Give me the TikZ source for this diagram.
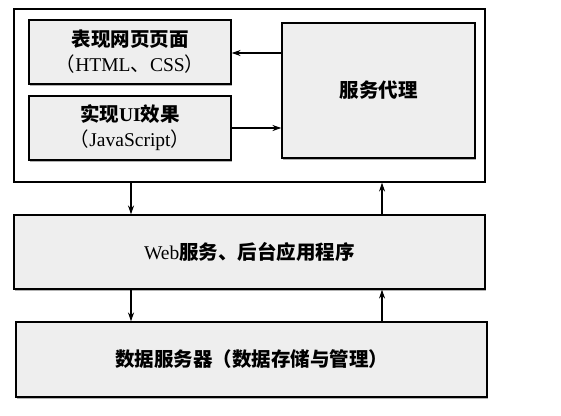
\documentclass[tikz,border=0pt]{standalone}
\usepackage{fontspec}
\setmainfont{Liberation Serif}
\newfontfamily\cjk{Noto Sans CJK SC}
\usetikzlibrary{shadows,arrows.meta}
\begin{document}
\begin{tikzpicture}[x=1pt,y=-1pt,
  every node/.style={font=\fontsize{19.5}{25}\selectfont},
  outerbox/.style={draw, line width=1.1pt, fill=white, inner sep=0pt},
  graybox/.style={draw, line width=1.1pt, fill=gray!13, inner sep=0pt, align=center,
    drop shadow={shadow xshift=1.4pt, shadow yshift=-1.6pt, fill=gray!60, opacity=1}},
  arr/.style={line width=1.1pt, -{Stealth[length=9pt,width=6pt]}}]
\useasboundingbox (0,0) rectangle (561,415);
\node (outer) [outerbox, minimum width=471pt, minimum height=173pt] at (249.5,95.5) {};
\node (b1) [graybox, minimum width=202pt, minimum height=64pt] at (130,52)
  {{\cjk\bfseries 表现网页页面}\\{\cjk （}HTML{\cjk 、}CSS{\cjk ）}};
\node (b2) [graybox, minimum width=202pt, minimum height=64pt] at (130,128)
  {{\cjk\bfseries 实现}{\bfseries UI}{\cjk\bfseries 效果}\\{\cjk （}JavaScript{\cjk ）}};
\node (b3) [graybox, minimum width=193pt, minimum height=135pt] at (378.5,90.5)
  {\cjk\bfseries 服务代理};
\node (web) [graybox, minimum width=471pt, minimum height=74pt] at (249.5,252)
  {Web{\cjk\bfseries 服务、后台应用程序}};
\node (data) [graybox, minimum width=471pt, minimum height=75pt] at (251.5,359.5)
  {\cjk\bfseries 数据服务器（数据存储与管理）};
\coordinate (c1) at (131,0);
\coordinate (c2) at (382,0);
\coordinate (r1) at (0,53);
\coordinate (r2) at (0,128);
\draw[arr] (b3.west |- r1) -- (b1.east |- r1);
\draw[arr] (b2.east |- r2) -- (b3.west |- r2);
\draw[arr] (outer.south -| c1) -- (web.north -| c1);
\draw[arr] (web.north -| c2) -- (outer.south -| c2);
\draw[arr] (web.south -| c1) -- (data.north -| c1);
\draw[arr] (data.north -| c2) -- (web.south -| c2);
\end{tikzpicture}
\end{document}
